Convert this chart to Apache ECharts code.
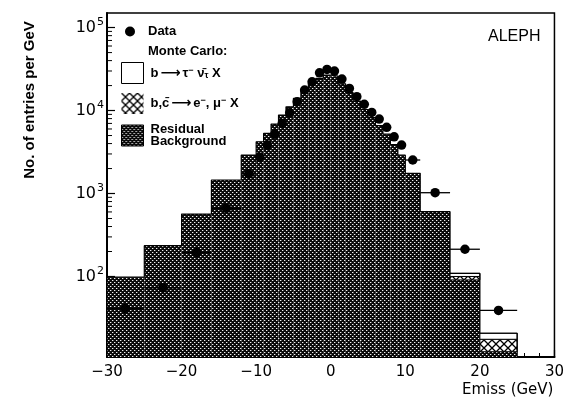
<!DOCTYPE html>
<html lang="en">
<head>
<meta charset="UTF-8">
<title>ALEPH Emiss</title>
<script src="https://cdn.jsdelivr.net/npm/echarts@6/dist/echarts.min.js"></script>
<style>
  html, body { margin: 0; padding: 0; background: #fff; }
  #main { width: 567px; height: 398px; }
</style>
</head>
<body>
<div id="main"></div>
<script type="text/javascript">
// bin edges in GeV (the 25-30 bin is empty)
var binEdges = [-30, -25, -20, -16, -12, -10, -9, -8, -7, -6, -5, -4, -3, -2, -1, 0,
                1, 2, 3, 4, 5, 6, 7, 8, 9, 10, 12, 16, 20, 25];
// data, entries per GeV
var dataVal = [41, 73, 194, 663, 1720, 2730, 3840, 5200, 7000, 9400, 12800, 17700, 22200, 28500, 31300,
               29900, 24000, 18500, 14700, 11900, 9500, 7900, 6280, 4830, 3840, 2535, 1023, 213, 39];
// Monte Carlo components (stacked)
var residualBg = [98, 235, 566, 1455, 2910, 4210, 5310, 6870, 8830, 11100, 14000, 17700, 21300, 24500, 26800,
                  26000, 21000, 16500, 13000, 10300, 8200, 6600, 5200, 3900, 2900, 1750, 604, 91, 12.4];
var emuVal = [0, 0, 0, 0, 0, 0, 0, 0, 0, 0, 0, 0, 0, 0, 0,
              0, 0, 0, 0, 0, 0, 0, 0, 0, 0, 0, 0, 9, 5.1];
var tauVal = [0, 0, 0, 0, 0, 0, 0, 0, 0, 0, 0, 0, 0, 0, 0,
              0, 0, 0, 0, 0, 0, 0, 0, 0, 0, 0, 0, 9, 3.2];
var yMinorTicks = [20, 30, 40, 50, 60, 70, 80, 90, 200, 300, 400, 500, 600, 700, 800, 900,
                   2000, 3000, 4000, 5000, 6000, 7000, 8000, 9000, 20000, 30000, 40000, 50000,
                   60000, 70000, 80000, 90000];
var yMin = 10.7, yMax = 150000;

function darkPattern() {
    var c = document.createElement('canvas');
    c.width = 4; c.height = 4;
    var ctx = c.getContext('2d');
    ctx.fillStyle = '#0a0a0a';
    ctx.fillRect(0, 0, 4, 4);
    ctx.fillStyle = '#f0f0f0';
    ctx.fillRect(0, 0, 1, 1);
    ctx.fillRect(2, 2, 1, 1);
    ctx.fillStyle = '#5a5a5a';
    ctx.fillRect(1, 0, 1, 1);
    ctx.fillRect(3, 2, 1, 1);
    return c;
}
function crossPattern() {
    var c = document.createElement('canvas');
    c.width = 8; c.height = 8;
    var ctx = c.getContext('2d');
    ctx.fillStyle = '#fff';
    ctx.fillRect(0, 0, 8, 8);
    ctx.strokeStyle = '#000';
    ctx.lineWidth = 1.3;
    ctx.beginPath();
    ctx.moveTo(0, 0); ctx.lineTo(8, 8);
    ctx.moveTo(8, 0); ctx.lineTo(0, 8);
    ctx.stroke();
    return c;
}
var darkFill = { image: darkPattern(), repeat: 'repeat' };
var crossFill = { image: crossPattern(), repeat: 'repeat' };

// stacked rectangles: [lo, hi, base, top]
var resRects = [], emuRects = [], tauRects = [], points = [], errBars = [], outline = [];
for (var i = 0; i < dataVal.length; i++) {
    var lo = binEdges[i], hi = binEdges[i + 1];
    var r = residualBg[i], e = emuVal[i], t = tauVal[i];
    resRects.push([lo, hi, yMin, r]);
    if (e > 0) emuRects.push([lo, hi, r, r + e]);
    if (t > 0) tauRects.push([lo, hi, r + e, r + e + t]);
    points.push([(lo + hi) / 2, dataVal[i]]);
    errBars.push([lo, hi, dataVal[i]]);
    outline.push([lo, r + e + t]);
}
outline.push([binEdges[binEdges.length - 1], residualBg[residualBg.length - 1] + emuVal[emuVal.length - 1] + tauVal[tauVal.length - 1]]);
outline.push([binEdges[binEdges.length - 1], yMin]);

function histRender(fill, stroke) {
    return function (params, api) {
        var p0 = api.coord([api.value(0), api.value(3)]);
        var p1 = api.coord([api.value(1), api.value(2)]);
        return {
            type: 'rect',
            shape: { x: p0[0], y: p0[1], width: p1[0] - p0[0], height: p1[1] - p0[1] },
            style: { fill: fill, stroke: stroke, lineWidth: 1 }
        };
    };
}

var legendText = {
    'Data': 'Data',
    'tau': 'b{ar|\u27f6}\u03c4{sp|\u2212} \u03bd\u0304{sb|\u03c4} X',
    'emu': 'b,c\u0304{ar|\u27f6}e{sp|\u2212}, \u03bc{sp|\u2212} X',
    'res': 'Residual\nBackground'
};
var richText = {
    ar: { fontFamily: 'DejaVu Sans', fontSize: 14, fontWeight: 'bold', padding: [0, 2, 0, 2] },
    sp: { fontSize: 9, fontWeight: 'bold', verticalAlign: 'top', lineHeight: 14 },
    sb: { fontSize: 9, fontWeight: 'bold', verticalAlign: 'bottom', lineHeight: 14 }
};

var myChart = echarts.init(document.getElementById('main'));
var option = {
    animation: false,
    backgroundColor: '#fff',
    textStyle: { fontFamily: 'Liberation Sans, DejaVu Sans, sans-serif', color: '#000' },
    grid: { left: 107, right: 1, top: 13, bottom: 41, show: true, borderColor: '#000', borderWidth: 1.5 },
    xAxis: {
        type: 'value',
        min: -30, max: 30, interval: 10,
        name: 'Emiss (GeV)',
        nameLocation: 'end',
        nameGap: -1,
        nameTextStyle: { fontFamily: 'DejaVu Sans', fontSize: 15, align: 'right', verticalAlign: 'top', padding: [26, 0, 0, 0] },
        axisLine: { onZero: false, lineStyle: { color: '#000', width: 2 } },
        axisTick: { inside: true, length: 7, lineStyle: { color: '#000', width: 1.2 } },
        minorTick: { show: true, splitNumber: 5, length: 4, lineStyle: { color: '#000', width: 1 } },
        splitLine: { show: false },
        axisLabel: {
            margin: 8,
            fontFamily: 'DejaVu Sans', fontSize: 15, color: '#000',
            formatter: function (v) { return v < 0 ? '\u2212' + Math.abs(v) : String(v); }
        }
    },
    yAxis: {
        type: 'log',
        logBase: 10,
        min: yMin, max: yMax,
        axisLine: { onZero: false, lineStyle: { color: '#000', width: 2 } },
        axisTick: { inside: true, length: 8, lineStyle: { color: '#000', width: 1.2 } },
        splitLine: { show: false },
        axisLabel: {
            margin: 3,
            showMinLabel: false, showMaxLabel: false,
            formatter: function (v) {
                var ex = Math.round(Math.log(v) / Math.LN10);
                if (Math.abs(Math.pow(10, ex) - v) > 1e-6 * v) return '';
                return '{b|10}{s|' + ex + '}';
            },
            rich: {
                b: { fontFamily: 'DejaVu Sans', fontSize: 16, lineHeight: 22, color: '#000' },
                s: { fontFamily: 'DejaVu Sans', fontSize: 11, lineHeight: 11, verticalAlign: 'top', color: '#000', padding: [0, 0, 0, 1] }
            }
        }
    },
    legend: [
        {
            data: [{ name: 'Data', icon: 'circle' }],
            left: 120, top: 20,
            itemWidth: 10, itemHeight: 10,
            selectedMode: false,
            formatter: function (n) { return legendText[n]; },
            textStyle: { fontSize: 13, fontWeight: 'bold', color: '#000', padding: [0, 0, 0, 8] }
        },
        {
            data: [
                { name: 'tau', icon: 'rect' },
                { name: 'emu', icon: 'rect', itemStyle: { borderWidth: 0 } },
                { name: 'res', icon: 'rect' }
            ],
            orient: 'vertical',
            left: 116, top: 57,
            itemWidth: 22, itemHeight: 21, itemGap: 9,
            selectedMode: false,
            itemStyle: { borderColor: '#000', borderWidth: 1 },
            formatter: function (n) { return legendText[n]; },
            textStyle: { fontSize: 13, fontWeight: 'bold', color: '#000', lineHeight: 12, padding: [0, 0, 0, 2], rich: richText }
        }
    ],
    graphic: [
        {
            type: 'text', left: 148, top: 45,
            style: { text: 'Monte Carlo:', font: 'bold 13px Liberation Sans', fill: '#000' }
        },
        {
            type: 'text', left: 488, top: 29,
            style: { text: 'ALEPH', font: '16px Liberation Sans', fill: '#000' }
        },
        {
            type: 'text', x: 30, y: 100, rotation: Math.PI / 2,
            style: { text: 'No. of entries per GeV', font: 'bold 15px Liberation Sans', fill: '#000',
                     textAlign: 'center', textVerticalAlign: 'middle' }
        }
    ],
    series: [
        {
            name: 'minor ticks',
            type: 'custom',
            data: yMinorTicks,
            silent: true,
            renderItem: function (params, api) {
                var p = api.coord([-30, api.value(0)]);
                return { type: 'line', shape: { x1: p[0], y1: p[1], x2: p[0] + 5, y2: p[1] },
                         style: { stroke: '#000', lineWidth: 1 } };
            }
        },
        {
            name: 'res', type: 'custom', data: resRects,
            itemStyle: { color: darkFill, borderColor: '#000', borderWidth: 1 },
            renderItem: histRender(darkFill, null)
        },
        {
            name: 'emu', type: 'custom', data: emuRects,
            itemStyle: { color: crossFill, borderColor: '#000', borderWidth: 1 },
            renderItem: histRender(crossFill, '#000')
        },
        {
            name: 'tau', type: 'custom', data: tauRects,
            itemStyle: { color: '#fff', borderColor: '#000', borderWidth: 1 },
            renderItem: histRender('#fff', '#000')
        },
        {
            name: 'outline', type: 'line', data: outline, step: 'end',
            symbol: 'none', silent: true,
            lineStyle: { color: '#000', width: 1.2 }
        },
        {
            name: 'errors', type: 'custom', data: errBars, silent: true,
            renderItem: function (params, api) {
                var a = api.coord([api.value(0), api.value(2)]);
                var b = api.coord([api.value(1), api.value(2)]);
                return { type: 'line', shape: { x1: a[0], y1: a[1], x2: b[0], y2: b[1] },
                         style: { stroke: '#000', lineWidth: 1.3 } };
            }
        },
        {
            name: 'Data', type: 'scatter', data: points,
            symbol: 'circle', symbolSize: 9.5,
            itemStyle: { color: '#000', opacity: 1 }
        }
    ]
};
myChart.setOption(option);
</script>
</body>
</html>
